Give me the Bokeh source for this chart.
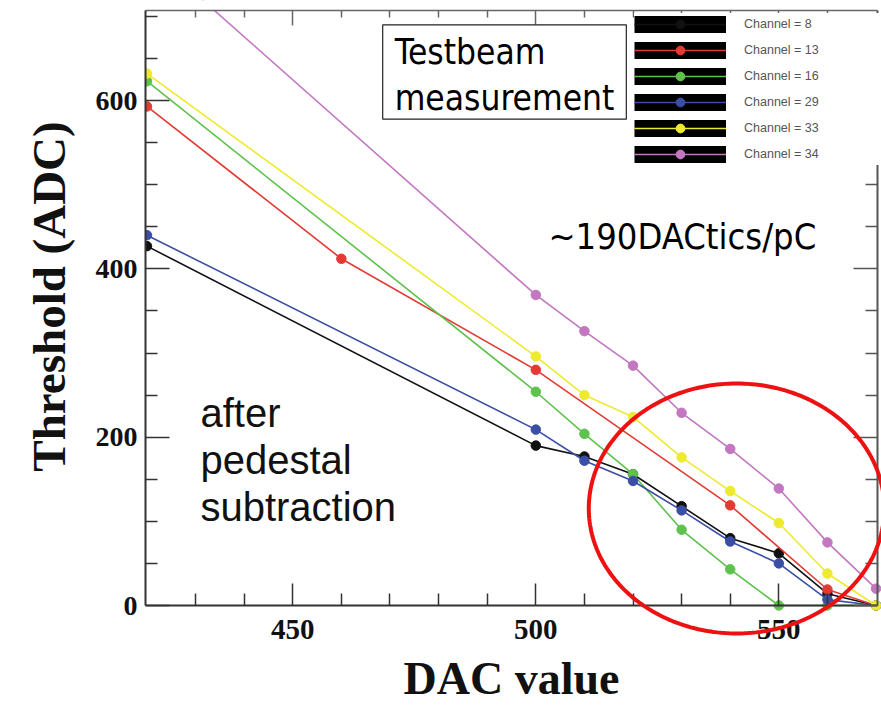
import numpy as np
from bokeh.plotting import figure
from bokeh.models import (Range1d, LinearAxis, FixedTicker, Legend, LegendItem,
                          Label, PolyAnnotation)
from bokeh.embed import file_html
from bokeh.resources import INLINE

# ---------------- data ----------------
dac_full = [420, 500, 510, 520, 530, 540, 550, 560, 570]
dac_ch13 = [420, 460, 500, 540, 560, 570]

ch8 = [427, 190, 177, 156, 118, 80, 62, 14, 0]
ch13 = [593, 412, 280, 119, 19, 0]
ch16 = [623, 254, 204, 156, 90, 43, 0, 0, 0]
ch29 = [440, 209, 172, 148, 113, 76, 50, 7, 0]
ch33 = [632, 296, 250, 224, 176, 136, 98, 38, 0]
ch34 = [778, 369, 326, 285, 229, 186, 139, 75, 20]

labels = ["Channel = 8", "Channel = 13", "Channel = 16",
          "Channel = 29", "Channel = 33", "Channel = 34"]
colors = ["#111111", "#e23b33", "#5ec24c", "#3b4ea6", "#eeea2e", "#c277c0"]

x_major = [450, 500, 550]
x_minor = [430, 440, 460, 470, 480, 490, 510, 520, 530, 540, 560]
y_major = [0, 200, 400, 600]
y_minor = [50, 100, 150, 250, 300, 350, 450, 500, 550, 650, 700]

# ---------------- layout ----------------
W, H = 881, 719
BOX_L, BOX_R, BOX_T, BOX_B = 145, 877, 10, 605    # pixel edges of the axes box
X0, X1 = 419.7, 570.3                             # axis extents (data)
Y0, Y1 = 0, 707
kx = (BOX_R - BOX_L) / (X1 - X0)
ky = (BOX_B - BOX_T) / (Y1 - Y0)
XR = Range1d(X0 - BOX_L / kx, X1 + (W - BOX_R) / kx)
YR = Range1d(Y0 - (H - BOX_B) / ky, Y1 + BOX_T / ky)

# The plotting frame covers the whole canvas; the axes are placed at fixed
# locations inside it, so titles and the highlight ellipse are never clipped.
p = figure(width=W, height=H, output_backend="svg", toolbar_location=None,
           x_range=XR, y_range=YR,
           x_axis_location=None, y_axis_location=None,
           min_border_left=0, min_border_right=0, min_border_top=0,
           min_border_bottom=0)
p.outline_line_color = None
p.background_fill_color = "white"
p.border_fill_color = "white"
p.xgrid.visible = False
p.ygrid.visible = False

serif = "Liberation Serif"


def tick_style(ax, color="#333333", lw=2.0):
    ax.axis_line_color = color
    ax.axis_line_width = lw
    ax.major_tick_line_color = color
    ax.major_tick_line_width = 1.5
    ax.minor_tick_line_color = color
    ax.minor_tick_line_width = 1.5
    ax.major_tick_out = 0
    ax.minor_tick_out = 0


# bottom axis
xb = LinearAxis(ticker=FixedTicker(ticks=x_major, minor_ticks=x_minor),
                fixed_location=Y0, bounds=(X0, X1),
                major_tick_in=22, minor_tick_in=12,
                major_label_text_font=serif, major_label_text_font_style="bold",
                major_label_text_font_size="29px", major_label_text_color="#111111",
                major_label_standoff=14)
tick_style(xb)
p.add_layout(xb, "below")

# left axis
yl = LinearAxis(ticker=FixedTicker(ticks=y_major, minor_ticks=y_minor),
                fixed_location=X0, bounds=(Y0, Y1),
                major_tick_in=24, minor_tick_in=12,
                major_label_text_font=serif, major_label_text_font_style="bold",
                major_label_text_font_size="28px", major_label_text_color="#111111",
                major_label_standoff=8)
tick_style(yl)
p.add_layout(yl, "left")

# mirrored tick marks (no labels) on top and right
xt1 = LinearAxis(ticker=FixedTicker(ticks=[], minor_ticks=x_major),
                 fixed_location=Y1, bounds=(X0, X1),
                 minor_tick_in=15, major_tick_in=0)
tick_style(xt1, "#666666", 1.5)
p.add_layout(xt1, "above")
xt2 = LinearAxis(ticker=FixedTicker(ticks=[], minor_ticks=x_minor),
                 fixed_location=Y1, bounds=(X0, X1),
                 minor_tick_in=7, major_tick_in=0)
tick_style(xt2, "#666666", 1.5)
xt2.axis_line_color = None
p.add_layout(xt2, "above")

yr1 = LinearAxis(ticker=FixedTicker(ticks=[], minor_ticks=y_major),
                 fixed_location=X1, bounds=(Y0, Y1),
                 minor_tick_in=24, major_tick_in=0)
tick_style(yr1, "#555555", 2.0)
p.add_layout(yr1, "right")
yr2 = LinearAxis(ticker=FixedTicker(ticks=[], minor_ticks=y_minor),
                 fixed_location=X1, bounds=(Y0, Y1),
                 minor_tick_in=12, major_tick_in=0)
tick_style(yr2, "#555555", 2.0)
yr2.axis_line_color = None
p.add_layout(yr2, "right")

# axis titles
p.add_layout(Label(x=495.0, y=-86.8, text="DAC value", text_font=serif,
                   text_font_style="bold", text_font_size="46px",
                   text_color="#111111", text_align="center",
                   text_baseline="alphabetic"))
p.add_layout(Label(x=399.75, y=367.2, text="Threshold (ADC)", text_font=serif,
                   text_font_style="bold", text_font_size="47px",
                   text_color="#111111", text_align="center",
                   text_baseline="middle", angle=np.pi / 2))

# ---------------- series ----------------
p.extra_y_ranges = {"swatch": Range1d(100000, 200000)}

series = [(dac_full, ch8), (dac_ch13, ch13), (dac_full, ch16),
          (dac_full, ch29), (dac_full, ch33), (dac_full, ch34)]

items = []
for (xs, ys), lab, col in zip(series, labels, colors):
    # black legend swatch: same data on an off-screen range, so only the legend shows it
    bg = p.line(xs, ys, y_range_name="swatch", line_color="black",
                line_width=17, line_cap="butt")
    ln = p.line(xs, ys, line_color=col, line_width=1.6)
    sc = p.scatter(xs, ys, size=9.5, fill_color=col, line_color=col)
    items.append(LegendItem(label=lab, renderers=[bg, ln, sc]))

# white masks drawn after the curves (but under the axes) that clip them to the box
pad_x = (XR.end - XR.start) * 0.1
pad_y = (YR.end - YR.start) * 0.1
p.quad(left=[XR.start - pad_x, XR.start - pad_x], right=[XR.end + pad_x, X0],
       bottom=[Y1, YR.start - pad_y], top=[YR.end + pad_y, Y1],
       fill_color="white", line_color=None)

legend = Legend(items=items, location=(634, 554),
                glyph_width=92, glyph_height=22, spacing=4, padding=2,
                label_standoff=18, label_width=135,
                label_text_font="Liberation Sans", label_text_font_size="12.5px",
                label_text_color="#555555",
                background_fill_color="white", background_fill_alpha=1.0,
                border_line_color=None)
p.add_layout(legend)

# ---------------- annotations ----------------
cond = "DejaVu Sans Condensed"
tb = Label(x=468.5, y=690, text="Testbeam\nmeasurement",
           text_font=cond, text_font_size="35px", text_color="#000000",
           text_align="left", text_baseline="top", text_line_height=1.16,
           border_line_color="#222222", border_line_width=1.2,
           background_fill_color="white",
           padding=dict(left=12, right=12, top=7, bottom=1))
p.add_layout(tb)

rate = Label(x=502.6, y=463, text="~190DACtics/pC",
             text_font=cond, text_font_size="36px", text_color="#000000",
             text_align="left", text_baseline="top")
p.add_layout(rate)

ped = Label(x=431.0, y=255, text="after\npedestal\nsubtraction",
            text_font="Liberation Sans", text_font_size="40px", text_color="#111111",
            text_align="left", text_baseline="top", text_line_height=1.075)
p.add_layout(ped)

# red ellipse highlighting the region near threshold zero
cx, cy, rx, ry = 541.3, 115.3, 30.4, 148.5
t = np.linspace(0, 2 * np.pi, 241)
ell = PolyAnnotation(xs=list(cx + rx * np.cos(t)), ys=list(cy + ry * np.sin(t)),
                     xs_units="data", ys_units="data",
                     fill_alpha=0, line_color="#ee1111", line_alpha=1.0, line_width=4)
p.add_layout(ell)

open("out.html", "w").write(file_html(p, INLINE))
